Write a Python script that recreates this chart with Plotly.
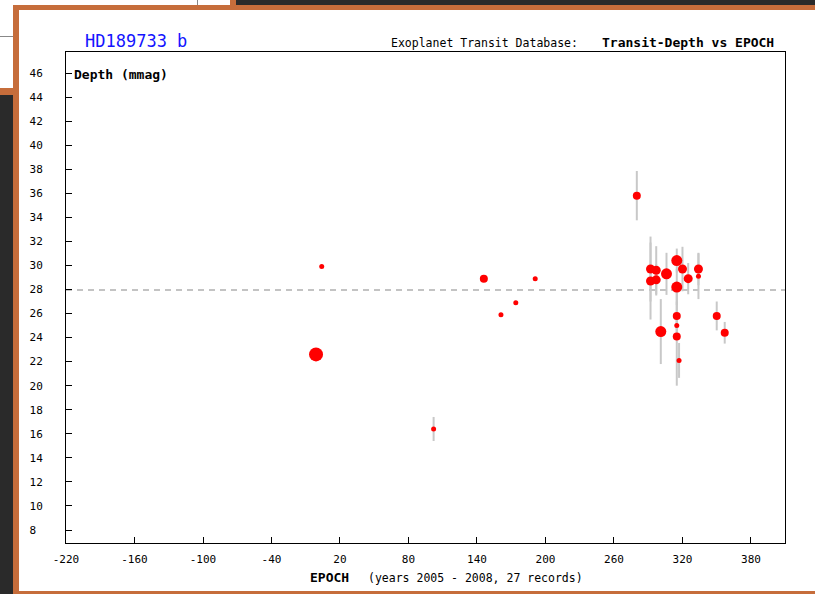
import plotly.graph_objects as go

# ---- transit records: epoch, depth (mmag), depth error, data quality ----
epoch = [-1, 4, 102, 146, 161, 174, 191, 280, 292, 297, 292, 297, 306, 315,
         320, 325, 315, 334, 334, 315, 315, 315, 317, 301, 350, 357]
depth = [22.6, 29.9, 16.4, 28.9, 25.9, 26.9, 28.9, 35.8, 29.7, 29.6, 28.7,
         28.8, 29.3, 30.4, 29.7, 28.9, 28.2, 29.7, 29.1, 25.8, 25.0, 24.1,
         22.1, 24.5, 25.8, 24.4]
depth_err = [0, 0, 1.0, 0, 0, 0, 0, 2.05, 2.7, 2.0, 3.2, 1.3, 1.75, 1.0,
             1.85, 1.3, 1.5, 1.35, 1.9, 1.2, 0.8, 4.1, 1.45, 2.7, 1.2, 0.9]
quality = [1, 5, 5, 4, 5, 5, 5, 4, 3, 3, 3, 3, 2, 2, 3, 3, 2, 3, 5, 4, 5, 4,
           5, 2, 4, 4]
mean_depth = 27.95

x_ticks = list(range(-220, 381, 60))
y_ticks = list(range(8, 47, 2))

# ---- page geometry (pixels) ----
W, H = 815, 594
L, R, T, B = 66, 785, 52, 543


def px(x):
    return (x - L) / (R - L)


def py(y):
    return (B - y) / (B - T)


MONO = "DejaVu Sans Mono"
ORANGE = "#c66d3b"
DARK = "#2a2a2a"

size_for_quality = {1: 14, 2: 11, 3: 9, 4: 8, 5: 5}
sizes = [size_for_quality[q] for q in quality]

fig = go.Figure()

fig.add_trace(go.Scatter(
    x=[x_ticks[0], 409.8], y=[mean_depth, mean_depth],
    mode="lines", line=dict(color="#b0b0b0", width=1.5, dash="6px,5px"),
    hoverinfo="skip", showlegend=False,
))

fig.add_trace(go.Scatter(
    x=epoch, y=depth, mode="markers",
    marker=dict(color="#ff0000", size=sizes, opacity=1, line=dict(width=0)),
    error_y=dict(type="data", array=depth_err, color="#c8c8c8",
                 thickness=2, width=0),
    showlegend=False,
))

ytext = [f"{v}" if v >= 10 else f"{v}\u00a0" for v in y_ticks]

fig.update_xaxes(
    range=[-220, 409.8], tickvals=x_ticks, ticktext=[str(v) for v in x_ticks],
    ticks="inside", ticklen=6, tickcolor="black", tickwidth=1,
    showline=True, linecolor="black", linewidth=1, mirror=True,
    showgrid=False, zeroline=False,
    tickfont=dict(family=MONO, size=11, color="black"),
    ticklabelstandoff=6,
)
fig.update_yaxes(
    range=[6.919, 47.746], tickvals=y_ticks, ticktext=ytext,
    ticks="inside", ticklen=6, tickcolor="black", tickwidth=1,
    showline=True, linecolor="black", linewidth=1, mirror=True,
    showgrid=False, zeroline=False,
    tickfont=dict(family=MONO, size=11, color="black"),
    ticklabelstandoff=20,
)

# ---- surrounding page frame ----
shapes = []


def rect(x0, y0, x1, y1, color):
    shapes.append(dict(type="rect", xref="paper", yref="paper",
                       x0=px(x0), x1=px(x1), y0=py(y1), y1=py(y0),
                       fillcolor=color, line=dict(width=0), layer="above"))


def hline(x0, x1, y, color):
    shapes.append(dict(type="line", xref="paper", yref="paper",
                       x0=px(x0), x1=px(x1), y0=py(y), y1=py(y),
                       line=dict(color=color, width=1), layer="above"))


def vline(x, y0, y1, color):
    shapes.append(dict(type="line", xref="paper", yref="paper",
                       x0=px(x), x1=px(x), y0=py(y0), y1=py(y1),
                       line=dict(color=color, width=1), layer="above"))


rect(236, 0, W, 5, DARK)
rect(230, 0, 236, 5, ORANGE)
rect(13, 5, W, 10, ORANGE)
rect(13, 5, 19, H, ORANGE)
rect(0, 88, 13, 95, ORANGE)
rect(0, 95, 13, H, DARK)
rect(13, 591, W, H, ORANGE)
vline(197.5, 0, 5, "#888888")
hline(0, 13, 36.5, "#888888")

annotations = [
    dict(text="HD189733 b", x=px(83), y=py(41.5), xanchor="left",
         yanchor="middle", font=dict(family=MONO, size=17, color="#1414ff")),
    dict(text="Exoplanet Transit Database:", x=px(389), y=py(42.5),
         xanchor="left", yanchor="middle",
         font=dict(family=MONO, size=11.5, color="black")),
    dict(text="<b>Transit-Depth vs EPOCH</b>", x=px(776), y=py(42.5),
         xanchor="right", yanchor="middle",
         font=dict(family=MONO, size=13, color="black")),
    dict(text="<b>Depth (mmag)</b>", x=px(72), y=py(74.5), xanchor="left",
         yanchor="middle", font=dict(family=MONO, size=13, color="black")),
    dict(text="<b>EPOCH</b>", x=px(308), y=py(577.5), xanchor="left",
         yanchor="middle", font=dict(family=MONO, size=13, color="black")),
    dict(text="(years 2005 - 2008, 27 records)", x=px(366), y=py(577.5),
         xanchor="left", yanchor="middle",
         font=dict(family=MONO, size=11.5, color="black")),
]
for a in annotations:
    a.update(xref="paper", yref="paper", showarrow=False)

fig.update_layout(
    width=W, height=H,
    margin=dict(l=L, r=W - R, t=T, b=H - B, pad=0),
    paper_bgcolor="white", plot_bgcolor="white",
    shapes=shapes, annotations=annotations,
)

fig.write_html("out.html")
